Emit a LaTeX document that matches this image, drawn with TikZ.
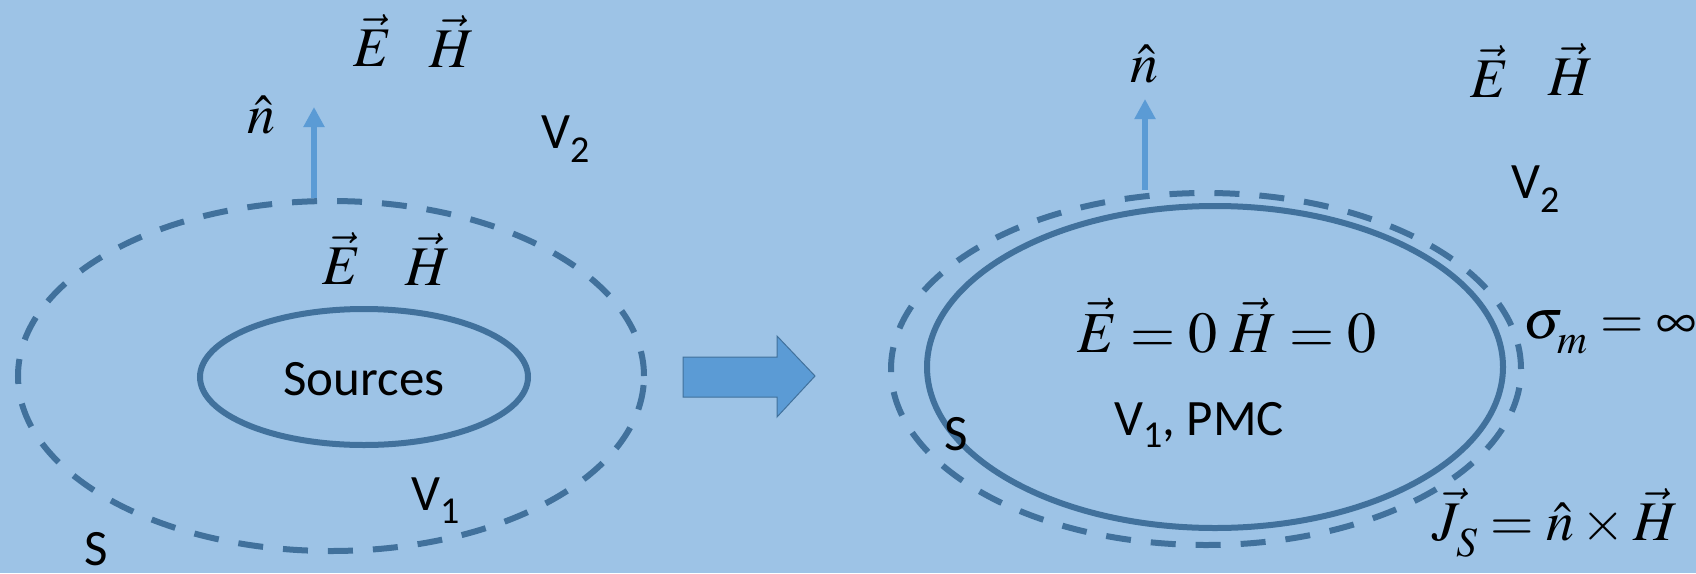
\documentclass[tikz,border=0pt]{standalone}
\usepackage{mathptmx}
\usepackage[no-math]{fontspec}
\setmainfont{Carlito}
\usetikzlibrary{shapes.geometric,arrows.meta}
\definecolor{bgblue}{RGB}{157,195,230}
\definecolor{edgeblue}{RGB}{65,113,156}
\definecolor{arrowblue}{RGB}{91,155,213}
\newcommand\Vsub[2]{V\raisebox{-#2pt}{\fontsize{38}{40}\selectfont #1}}
\newcommand\lowsub[2]{_{\raisebox{-#2pt}{$\scriptstyle #1$}}}
\begin{document}
\begin{tikzpicture}[x=1pt,y=-1pt,
  surf/.style={draw=edgeblue, line width=6pt, ellipse, inner sep=0pt},
  dashsurf/.style={draw=edgeblue, line width=6pt, ellipse, inner sep=0pt, dash pattern=on 25pt off 20pt},
  normalarrow/.style={draw=arrowblue, line width=6pt, -{Triangle[width=20pt,length=20pt]}},
  txt/.style={inner sep=0pt, anchor=base west, font=\fontsize{51}{60}\selectfont},
  mth/.style={inner sep=0pt, anchor=base, font=\fontsize{56}{60}\selectfont},
  bigmth/.style={inner sep=0pt, anchor=base, font=\fontsize{58}{64}\selectfont},
]
\fill[bgblue] (0,0) rectangle (1696,573);
\useasboundingbox (0,0) rectangle (1696,573);

% ---------- left figure ----------
\node[dashsurf, minimum width=626pt, minimum height=350pt] (dashL) at (331,376) {};
\node[surf, minimum width=328pt, minimum height=136pt] (srcL) at (364,377) {};
\node[txt, anchor=base] (sources) at (364,395) {Sources};
\coordinate (tipL) at (314,107);
\draw[normalarrow] (dashL.north -| tipL) -- (tipL);
\node[mth] (nL) at (261,133) {$\hat{n}$};
\node[mth] (EoutL) at (373,66) {$\vec{E}$};
\node[mth] (HoutL) at (452,67) {$\vec{H}$};
\node[mth] (EinL) at (342,284) {$\vec{E}$};
\node[mth] (HinL) at (428,285) {$\vec{H}$};
\node[txt] (V2L) at (541,148) {\Vsub{2}{14}};
\node[txt] (V1L) at (411,510) {\Vsub{1}{13}};
\node[txt, anchor=base] (SL) at (96,565) {S};

% ---------- big arrow ----------
\filldraw[fill=arrowblue, draw=edgeblue, line width=1pt]
  (683,357) -- (777,357) -- (777,336) -- (815,376) -- (777,417) -- (777,397) -- (683,397) -- cycle;

% ---------- right figure ----------
\node[dashsurf, minimum width=630pt, minimum height=352pt] (dashR) at (1206,369) {};
\node[surf, minimum width=576pt, minimum height=322pt] (pmc) at (1215,367) {};
\coordinate (tipR) at (1145,99);
\draw[normalarrow] (dashR.north -| tipR) -- (tipR);
\node[mth] (nR) at (1144,82) {$\hat{n}$};
\node[mth] (EoutR) at (1490,97) {$\vec{E}$};
\node[mth] (HoutR) at (1571,95) {$\vec{H}$};
\node[txt] (V2R) at (1511,198) {\Vsub{2}{14}};
\node[bigmth] (zero) at (1227,352) {$\vec{E}=0\;\vec{H}=0$};
\node[txt] (V1R) at (1114,435) {\Vsub{1}{12}, PMC};
\node[txt, anchor=base] (SR) at (956,450) {S};
\node[mth] (sigma) at (1610,338) {$\sigma\lowsub{m}{7}=\infty$};
\node[mth] (Js) at (1555,540) {$\vec{J}\lowsub{S}{8}=\hat{n}\times\vec{H}$};
\end{tikzpicture}
\end{document}
